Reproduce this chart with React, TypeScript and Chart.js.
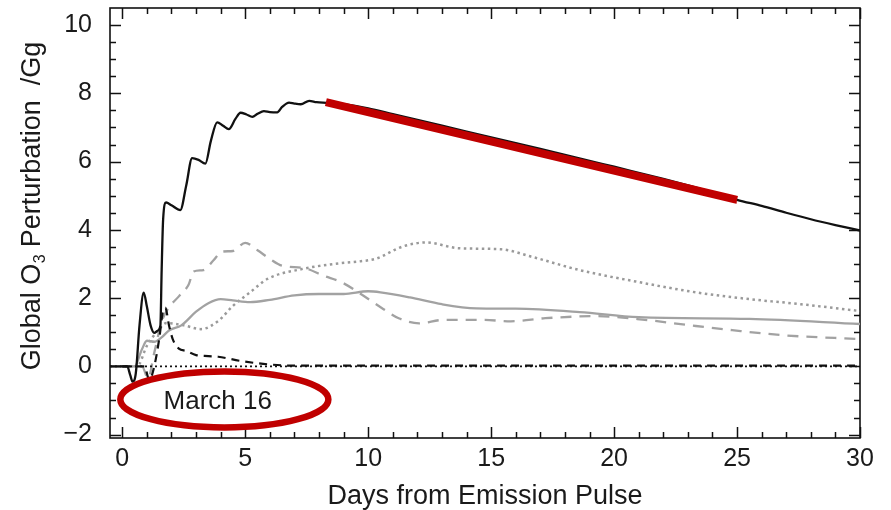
import React, { useEffect, useRef } from "react";
import { Chart, registerables } from "chart.js";

Chart.register(...registerables);

// ---------- data ----------
const xTickValues = [0, 5, 10, 15, 20, 25, 30];
const yTickValues = [-2, 0, 2, 4, 6, 8, 10];

const blackSolidDays = [-0.5, 0.2, 0.32, 0.42, 0.55, 0.7, 0.87, 1.0, 1.15, 1.3, 1.45, 1.55, 1.6, 1.66, 1.78, 2.0, 2.36, 2.6, 2.84, 3.1, 3.38, 3.6, 3.86, 4.1, 4.33, 4.6, 4.81, 5.05, 5.29, 5.5, 5.76, 6.0, 6.3, 6.5, 6.78, 7.0, 7.26, 7.6, 7.9, 8.3, 9, 10, 11, 12, 13, 14, 15, 16, 17, 18, 19, 20, 21, 22, 23, 24, 25, 26, 27, 28, 29, 30];
const blackSolidValues = [0, 0, -0.25, -0.45, -0.2, 1.2, 2.16, 1.75, 1.2, 0.98, 1.05, 1.2, 2.8, 4.3, 4.8, 4.72, 4.58, 5.3, 6.1, 6.05, 5.94, 6.6, 7.15, 7.05, 6.95, 7.25, 7.43, 7.38, 7.31, 7.4, 7.48, 7.45, 7.44, 7.6, 7.73, 7.7, 7.68, 7.78, 7.74, 7.72, 7.68, 7.56, 7.39, 7.22, 7.05, 6.88, 6.71, 6.54, 6.37, 6.2, 6.02, 5.85, 5.67, 5.49, 5.3, 5.1, 4.88, 4.7, 4.5, 4.31, 4.14, 3.98];

const blackDashedDays = [0, 0.9, 1.1, 1.3, 1.5, 1.65, 1.75, 1.9, 2.05, 2.3, 2.6, 3.0, 3.5, 3.9, 4.8, 5.9, 7.0, 30];
const blackDashedValues = [0, 0, -0.4, 0, 0.8, 1.6, 1.72, 1.2, 0.8, 0.52, 0.45, 0.33, 0.3, 0.28, 0.16, 0.06, 0.02, 0.02];

const blackDottedDays = [-0.5, 30];
const blackDottedValues = [0, 0];

const graySolidDays = [0, 0.5, 0.8, 1.0, 1.3, 1.6, 1.9, 2.4, 3.0, 3.5, 4.0, 4.5, 5.2, 6.0, 7.0, 8.0, 9.0, 10.0, 10.5, 11.7, 13, 14.4, 16, 18.6, 21, 25.5, 30];
const graySolidValues = [0, 0, 0.5, 0.75, 0.72, 0.85, 1.05, 1.2, 1.6, 1.85, 1.97, 1.93, 1.88, 1.95, 2.08, 2.12, 2.12, 2.2, 2.17, 2.02, 1.82, 1.7, 1.69, 1.59, 1.44, 1.39, 1.24];

const grayDashedDays = [0, 0.8, 1.05, 1.3, 1.6, 1.85, 2.3, 2.7, 2.9, 3.3, 3.7, 4.05, 4.5, 5.0, 5.5, 6.0, 6.5, 7.4, 8.2, 8.9, 9.7, 10.55, 11.24, 12.07, 13.05, 14.7, 15.8, 17.2, 19.3, 21.4, 23, 24.8, 26.9, 30];
const grayDashedValues = [0, 0, -0.35, 0.4, 1.3, 1.68, 2.05, 2.4, 2.78, 2.82, 3.1, 3.36, 3.38, 3.62, 3.4, 3.15, 2.95, 2.88, 2.65, 2.47, 2.12, 1.71, 1.41, 1.26, 1.36, 1.36, 1.32, 1.41, 1.47, 1.35, 1.21, 1.06, 0.91, 0.8];

const grayDottedDays = [0, 0.6, 1.0, 1.4, 1.8, 2.5, 3.2, 3.9, 4.5, 5.2, 5.9, 7.3, 8.6, 9.7, 10.3, 11.4, 12.35, 13.7, 15.4, 16.65, 18.6, 20.7, 23.4, 25.5, 27.6, 30];
const grayDottedValues = [0, 0, 0.6, 1.0, 1.27, 1.2, 1.09, 1.33, 1.77, 2.17, 2.56, 2.85, 3.0, 3.08, 3.15, 3.51, 3.63, 3.46, 3.43, 3.21, 2.82, 2.51, 2.16, 1.97, 1.82, 1.62];

const redTrendDays = [8.28, 25];
const redTrendValues = [7.74, 4.88];

const noteText = "March 16";
const noteDay = 4.15;
const noteValue = -0.97;
const noteRadiusDays = 4.23;
const noteRadiusValue = 0.82;
const noteTextDay = 3.88;
const noteTextValue = -1.03;

const xTitle = "Days from Emission Pulse";
const yTitleParts = ["Global O", "3", " Perturbation  /Gg"];

const FONT = "'Liberation Sans', Arial, Helvetica, sans-serif";
const RED = "#c00000";
const GRAY = "#a2a2a2";
const BLACK = "#111111";

const pts = (xs: number[], ys: number[]) => xs.map((x, i) => ({ x, y: ys[i] }));

const framePlugin = {
  id: "frameTicks",
  beforeDatasetsDraw(chart: any) {
    const { ctx, chartArea: a, scales } = chart;
    const xs = scales.x;
    const ys = scales.y;
    ctx.save();
    ctx.strokeStyle = BLACK;
    ctx.lineWidth = 1.5;
    ctx.beginPath();
    for (let d = 0; d <= 30; d += 1) {
      const px = Math.round(xs.getPixelForValue(d)) + 0.5;
      const len = xTickValues.includes(d) ? 11 : 6;
      ctx.moveTo(px, a.bottom);
      ctx.lineTo(px, a.bottom - len);
      ctx.moveTo(px, a.top);
      ctx.lineTo(px, a.top + len);
    }
    for (let k = -4; k <= 20; k += 1) {
      const v = k / 2;
      const py = Math.round(ys.getPixelForValue(v)) + 0.5;
      const len = yTickValues.includes(v) ? 11 : 6;
      ctx.moveTo(a.left, py);
      ctx.lineTo(a.left + len, py);
      ctx.moveTo(a.right, py);
      ctx.lineTo(a.right - len, py);
    }
    ctx.stroke();
    ctx.lineWidth = 1.6;
    ctx.strokeRect(a.left, a.top, a.right - a.left, a.bottom - a.top);
    ctx.restore();
  },
  afterDatasetsDraw(chart: any) {
    const { ctx, scales } = chart;
    const xs = scales.x;
    const ys = scales.y;
    ctx.save();
    const cx = xs.getPixelForValue(noteDay);
    const cy = ys.getPixelForValue(noteValue);
    const rx = xs.getPixelForValue(noteDay + noteRadiusDays) - cx;
    const ry = cy - ys.getPixelForValue(noteValue + noteRadiusValue);
    ctx.beginPath();
    ctx.ellipse(cx, cy, rx, ry, 0, 0, Math.PI * 2);
    ctx.strokeStyle = RED;
    ctx.lineWidth = 6.5;
    ctx.stroke();
    ctx.fillStyle = "#1a1a1a";
    ctx.font = `26px ${FONT}`;
    ctx.textAlign = "center";
    ctx.textBaseline = "middle";
    ctx.fillText(noteText, xs.getPixelForValue(noteTextDay), ys.getPixelForValue(noteTextValue));
    ctx.restore();
  },
  afterDraw(chart: any) {
    const { ctx, chartArea: a } = chart;
    ctx.save();
    ctx.fillStyle = "#1a1a1a";
    // x title
    ctx.font = `27px ${FONT}`;
    ctx.textAlign = "center";
    ctx.textBaseline = "middle";
    ctx.fillText(xTitle, (a.left + a.right) / 2, 497);
    // y title (rotated, with subscript)
    const big = `27px ${FONT}`;
    const small = `16px ${FONT}`;
    ctx.font = big;
    const w0 = ctx.measureText(yTitleParts[0]).width;
    const w2 = ctx.measureText(yTitleParts[2]).width;
    ctx.font = small;
    const w1 = ctx.measureText(yTitleParts[1]).width;
    const total = w0 + w1 + w2;
    ctx.translate(33, 206);
    ctx.rotate(-Math.PI / 2);
    ctx.textAlign = "left";
    let x0 = -total / 2;
    ctx.font = big;
    ctx.fillText(yTitleParts[0], x0, 0);
    x0 += w0;
    ctx.font = small;
    ctx.fillText(yTitleParts[1], x0 + 0.5, 8);
    x0 += w1;
    ctx.font = big;
    ctx.fillText(yTitleParts[2], x0, 0);
    ctx.restore();
  },
};

export default function App() {
  const ref = useRef<HTMLCanvasElement | null>(null);
  useEffect(() => {
    if (!ref.current) return;
    const line = (data: any, color: string, width: number, dash: number[] = []) => ({
      data,
      borderColor: color,
      borderWidth: width,
      borderDash: dash,
      pointRadius: 0,
      fill: false,
      cubicInterpolationMode: "monotone" as const,
    });
    const chart = new Chart(ref.current, {
      type: "line",
      data: {
        datasets: [
          { ...line(pts(redTrendDays, redTrendValues), RED, 8), borderCapStyle: "butt" },
          line(pts(blackSolidDays, blackSolidValues), BLACK, 2.3),
          line(pts(blackDashedDays, blackDashedValues), BLACK, 2.2, [8, 6]),
          line(pts(blackDottedDays, blackDottedValues), BLACK, 1.8, [2, 3]),
          line(pts(graySolidDays, graySolidValues), GRAY, 2.3),
          line(pts(grayDashedDays, grayDashedValues), GRAY, 2.3, [11, 8]),
          line(pts(grayDottedDays, grayDottedValues), "#9a9a9a", 2.5, [2.5, 3.5]),
        ] as any,
      },
      options: {
        responsive: false,
        animation: false,
        devicePixelRatio: 1,
        layout: { padding: { top: 8, right: 31, left: 0, bottom: 0 } },
        plugins: { legend: { display: false }, tooltip: { enabled: false }, title: { display: false } },
        scales: {
          x: {
            type: "linear",
            min: -0.5,
            max: 30,
            afterBuildTicks: (s: any) => {
              s.ticks = xTickValues.map((v) => ({ value: v }));
            },
            afterFit: (s: any) => {
              s.height = 72;
              s.paddingLeft = 0;
              s.paddingRight = 0;
            },
            grid: { display: false, drawTicks: false },
            border: { display: false },
            ticks: {
              autoSkip: false,
              maxRotation: 0,
              padding: 6,
              color: "#1a1a1a",
              font: { family: FONT, size: 25 },
            },
          },
          y: {
            type: "linear",
            min: -2.1,
            max: 10.5,
            afterBuildTicks: (s: any) => {
              s.ticks = yTickValues.map((v) => ({ value: v }));
            },
            afterFit: (s: any) => {
              s.width = 110;
              s.paddingTop = 0;
              s.paddingBottom = 0;
            },
            grid: { display: false, drawTicks: false },
            border: { display: false },
            ticks: {
              autoSkip: false,
              padding: 18,
              color: "#1a1a1a",
              font: { family: FONT, size: 25 },
              callback: (v: any) => (Number(v) < 0 ? "\u2212" + Math.abs(Number(v)) : String(v)),
            },
          },
        },
      } as any,
      plugins: [framePlugin],
    });
    return () => chart.destroy();
  }, []);
  return (
    <div style={{ position: "absolute", left: 0, top: 0, width: 891, height: 510, background: "#fff" }}>
      <canvas ref={ref} width={891} height={510} style={{ width: 891, height: 510, display: "block" }} />
    </div>
  );
}
